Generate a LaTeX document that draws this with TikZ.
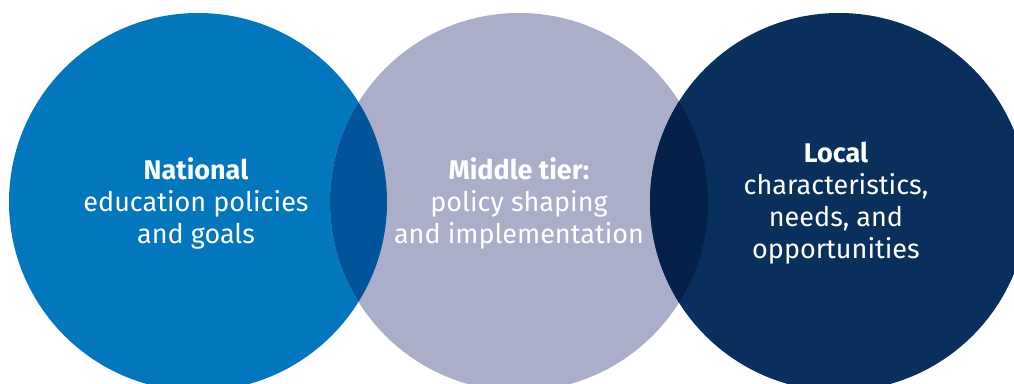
\documentclass[tikz,border=0pt]{standalone}
\usepackage{fontspec}
\setmainfont{Fira Sans}
\definecolor{natblue}{HTML}{0277BE}
\definecolor{midgrey}{HTML}{AAAEC8}
\definecolor{locnavy}{HTML}{09305C}
\definecolor{ovlA}{HTML}{01539A}
\definecolor{ovlB}{HTML}{052148}
\tikzset{
  circlabel/.style={text=white, align=center, font=\fontsize{27}{32}\selectfont, inner sep=0pt},
}
\begin{document}
\begin{tikzpicture}[x=1pt,y=1pt]
\useasboundingbox (0,0) rectangle (1014,383);
\clip (0,0) rectangle (1014,383);
\coordinate (cN) at (198,181);
\coordinate (cM) at (519,181);
\coordinate (cL) at (839,181);
\fill[natblue] (cN) circle[radius=189];
\fill[midgrey] (cM) circle[radius=189];
\fill[locnavy] (cL) circle[radius=189];
\begin{scope}
  \clip (cN) circle[radius=189];
  \fill[ovlA] (cM) circle[radius=189];
\end{scope}
\begin{scope}
  \clip (cM) circle[radius=189];
  \fill[ovlB] (cL) circle[radius=189];
\end{scope}
\node[circlabel] (national) at (196,180) {\textbf{National}\\education policies\\and goals};
\node[circlabel] (middle) at (519,180) {\textbf{Middle tier:}\\policy shaping\\and implementation};
\node[circlabel] (local) at (836,180) {\textbf{Local}\\characteristics,\\needs, and\\opportunities};
\end{tikzpicture}
\end{document}
